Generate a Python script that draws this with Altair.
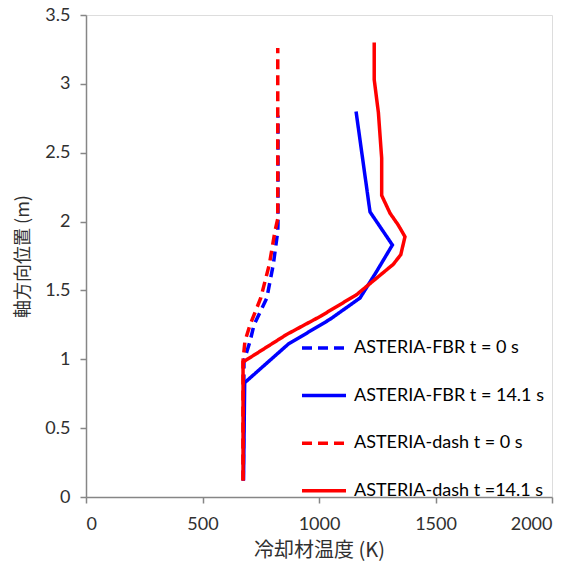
import altair as alt
import pandas as pd

# ---- data ----
fbr0_T = [675, 678, 704, 721, 776, 804, 823, 824, 824]
fbr0_z = [0.12, 0.99, 1.13, 1.25, 1.445, 1.69, 1.93, 1.98, 2.77]

fbr14_T = [676, 681, 868, 1047, 1176, 1248, 1315, 1219, 1159]
fbr14_z = [0.12, 0.83, 1.11, 1.29, 1.445, 1.64, 1.83, 2.07, 2.80]

dash0_T = [674, 674, 682, 704, 750, 787, 811, 823, 823]
dash0_z = [0.12, 0.99, 1.13, 1.25, 1.445, 1.69, 1.93, 2.02, 3.26]

dash14_T = [674, 674, 861, 1004, 1162, 1319, 1351, 1369, 1340, 1305, 1269, 1269, 1255, 1237, 1237]
dash14_z = [0.12, 0.98, 1.18, 1.31, 1.47, 1.69, 1.76, 1.89, 1.975, 2.06, 2.19, 2.46, 2.79, 3.03, 3.30]

series_names = [
    "ASTERIA-FBR t = 0 s",
    "ASTERIA-FBR t = 14.1 s",
    "ASTERIA-dash t = 0 s",
    "ASTERIA-dash t =14.1 s",
]
series_T = [fbr0_T, fbr14_T, dash0_T, dash14_T]
series_z = [fbr0_z, fbr14_z, dash0_z, dash14_z]
colors = ["#0000FF", "#0000FF", "#FF0000", "#FF0000"]
dashes = [[10, 6], [1, 0], [10, 6], [1, 0]]

x_ticks = [0, 500, 1000, 1500, 2000]
y_ticks = [0, 0.5, 1, 1.5, 2, 2.5, 3, 3.5]

rows = []
for name, Ts, zs in zip(series_names, series_T, series_z):
    for i, (t, z) in enumerate(zip(Ts, zs)):
        rows.append({"series": name, "T": t, "z": z, "i": i})
df = pd.DataFrame(rows)

FONT = "Lato"
CJK = "Noto Sans CJK JP"
AX = "#868686"
TXT = "#303030"

legend_kw = dict(
    title=None, orient="none", legendX=214, legendY=309,
    symbolType="stroke", symbolSize=1936, symbolStrokeWidth=3.5,
    labelFont=FONT, labelFontSize=18, labelColor="#000000",
    labelOffset=6, rowPadding=14.6, padding=0, labelLimit=300,
)

chart = (
    alt.Chart(df)
    .mark_line(strokeWidth=3.5, strokeCap="butt", strokeJoin="miter")
    .encode(
        x=alt.X(
            "T:Q",
            scale=alt.Scale(domain=[0, 2000], nice=False),
            axis=alt.Axis(
                values=x_ticks, title="冷却材温度 (K)", grid=False, format="d",
                labelFont=FONT, labelFontSize=18, labelColor=TXT, labelPadding=12,
                titleFont=CJK, titleFontSize=20, titleColor=TXT, titleFontWeight="normal",
                titlePadding=7, domainColor=AX, domainWidth=1.5, tickColor=AX,
                tickWidth=1.5, tickSize=6,
            ),
        ),
        y=alt.Y(
            "z:Q",
            scale=alt.Scale(domain=[0, 3.5], nice=False),
            axis=alt.Axis(
                values=y_ticks, title="軸方向位置 (m)", grid=False, format="~g",
                labelFont=FONT, labelFontSize=18, labelColor=TXT, labelPadding=10,
                titleFont=CJK, titleFontSize=18, titleColor=TXT, titleFontWeight="normal",
                titlePadding=12, domainColor=AX, domainWidth=1.5, tickColor=AX,
                tickWidth=1.5, tickSize=6,
            ),
        ),
        color=alt.Color(
            "series:N",
            scale=alt.Scale(domain=series_names, range=colors),
            sort=series_names,
            legend=alt.Legend(**legend_kw),
        ),
        strokeDash=alt.StrokeDash(
            "series:N",
            scale=alt.Scale(domain=series_names, range=dashes),
            sort=series_names,
            legend=alt.Legend(**legend_kw),
        ),
        order="i:Q",
    )
    .properties(
        width=466,
        height=482,
        autosize=alt.AutoSizeParams(type="none"),
        padding={"left": 78, "top": 7, "right": 14, "bottom": 64},
    )
    .configure_view(stroke=AX, strokeWidth=1.5)
    .configure(background="white")
)

chart.save("out.html", embed_options={"renderer": "svg", "actions": False})
